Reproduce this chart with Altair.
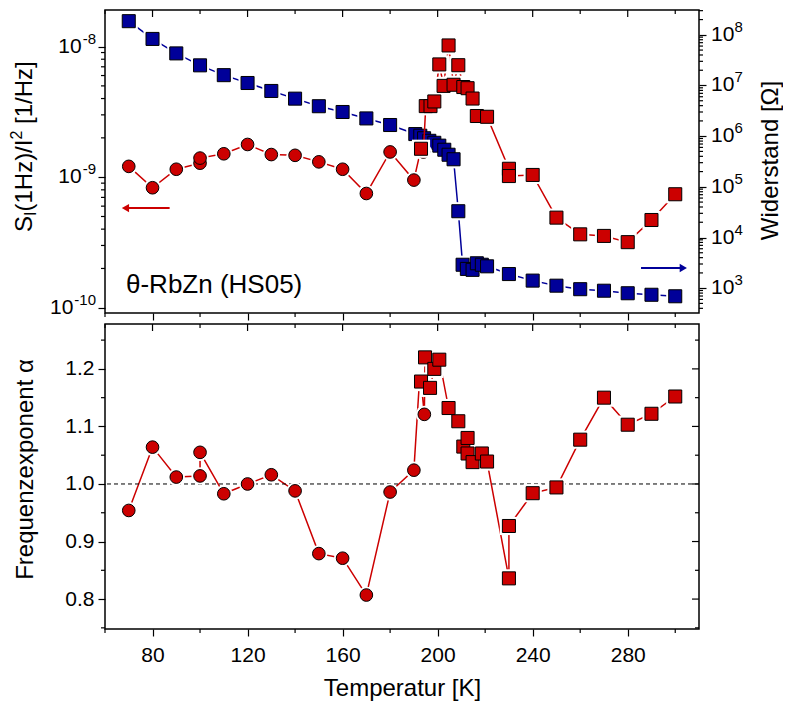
import altair as alt
import pandas as pd

# ---------------- data ----------------
# top panel, red: noise S_I/I^2 (left log axis)
circ_T_top = [70, 80, 90, 100, 100, 110, 120, 130, 140, 150, 160, 170, 180, 190, 194]
circ_S_top = [1.21e-9, 8.3e-10, 1.15e-9, 1.28e-9, 1.40e-9, 1.51e-9, 1.78e-9, 1.49e-9,
              1.47e-9, 1.31e-9, 1.15e-9, 7.5e-10, 1.56e-9, 9.5e-10, 1.56e-9]
sq_T_top = [193, 195, 197, 198.6, 200.7, 202.5, 204.6, 206.7, 208.7, 210.8, 212.6, 214.7,
            216.5, 220.8, 230, 230, 240, 250, 260, 270, 280, 290, 300]
sq_S_top = [1.65e-9, 3.5e-9, 3.5e-9, 3.8e-9, 7.3e-9, 5.0e-9, 1.02e-8, 5.1e-9, 7.2e-9, 4.9e-9,
            4.8e-9, 4.0e-9, 2.94e-9, 2.9e-9, 1.16e-9, 1.02e-9, 1.04e-9, 4.9e-10, 3.65e-10,
            3.55e-10, 3.18e-10, 4.7e-10, 7.4e-10]

# top panel, blue: resistance (right log axis)
blue_T = [70, 80, 90, 100, 110, 120, 130, 140, 150, 160, 170, 180, 190.6, 192.7, 194.3,
          196.5, 198.6, 200.7, 202.8, 204.6, 206.7, 208.7, 210.5, 212.3, 214.7, 216.5,
          218.6, 220.8, 230, 240, 250, 260, 270, 280, 290, 300]
blue_R = [1.86e8, 8.3e7, 4.3e7, 2.5e7, 1.6e7, 1.12e7, 7.8e6, 5.5e6, 3.9e6, 3.0e6, 2.24e6,
          1.66e6, 1.10e6, 1.02e6, 9.1e5, 8.1e5, 7.4e5, 6.5e5, 5.4e5, 4.3e5, 3.5e5, 3.3e4,
          2.9e3, 2.4e3, 2.3e3, 3.1e3, 2.9e3, 2.7e3, 1.9e3, 1.41e3, 1.12e3, 955, 891, 794,
          741, 692]

# bottom panel: frequency exponent alpha
circ_T_bot = [70, 80, 90, 100, 100, 110, 120, 130, 140, 150, 160, 170, 180, 190, 192.3, 194.4]
circ_a_bot = [0.954, 1.064, 1.012, 1.014, 1.055, 0.983, 1.000, 1.016, 0.988, 0.879, 0.871,
              0.807, 0.986, 1.024, 1.176, 1.121]
sq_T_bot = [193, 194.7, 196.8, 198.6, 200.7, 204.6, 208.7, 210.8, 212.6, 212.6, 214.7,
            218.6, 220.8, 230, 230, 240, 250, 260, 270, 280, 290, 300]
sq_a_bot = [1.178, 1.220, 1.167, 1.200, 1.216, 1.132, 1.109, 1.065, 1.080, 1.053, 1.038,
            1.053, 1.039, 0.836, 0.927, 0.984, 0.994, 1.077, 1.150, 1.103, 1.122, 1.152]

alpha_ref = [1.0]

# ticks and tick labels
x_major = [80, 120, 160, 200, 240, 280]
x_minor = [60, 100, 140, 180, 220, 260, 300]
s_major = [1e-10, 1e-9, 1e-8]
s_exp = ["-10", "-9", "-8"]
s_minor = [m * 10.0 ** e for e in (-10, -9) for m in range(2, 10)]
r_major = [1e3, 1e4, 1e5, 1e6, 1e7, 1e8]
r_exp = ["3", "4", "5", "6", "7", "8"]
r_minor = [m * 10.0 ** e for e in range(2, 9) for m in range(2, 10)]
r_minor = [v for v in r_minor if 3.3e2 < v < 3.2e8]
a_major = [0.8, 0.9, 1.0, 1.1, 1.2]
a_minor = [0.75, 0.85, 0.95, 1.05, 1.15, 1.25]

# annotation arrows (data coordinates)
arrow_red_T = [68.6, 87.2]
arrow_red_S = [5.8e-10]
arrow_blue_T = [285.6, 303.4]
arrow_blue_R = [2.5e3]

# ---------------- style ----------------
RED = "#CC0000"
BLUE = "#000099"
FONT = "Liberation Sans"
W = 594
H1 = 303
H2 = 305
MAJ = 7
MIN = 4
LBL = 20      # tick label size
SUP = 15      # exponent size
TTL = 24      # axis title size
SQ = 170      # square marker area
CI = 160      # circle marker area

xs = alt.Scale(domain=[60, 310], nice=False, zero=False)
ss = alt.Scale(type="log", domain=[10 ** -10.04, 10 ** -7.72], nice=False)
rs = alt.Scale(type="log", domain=[10 ** 2.51, 10 ** 8.49], nice=False)
ascale = alt.Scale(domain=[0.748, 1.278], nice=False, zero=False)


def order_df(Ta, Va, Tb, Vb, vname):
    df = pd.DataFrame({"T": Ta + Tb, vname: Va + Vb,
                       "kind": ["circle"] * len(Ta) + ["square"] * len(Tb)})
    df["k"] = range(len(df))
    df = df.sort_values(["T", "k"], kind="stable").reset_index(drop=True)
    df["seq"] = range(len(df))
    return df


red_top = order_df(circ_T_top, circ_S_top, sq_T_top, sq_S_top, "S")
red_bot = order_df(circ_T_bot, circ_a_bot, sq_T_bot, sq_a_bot, "a")
blue_df = pd.DataFrame({"T": blue_T, "R": blue_R})
blue_df["seq"] = range(len(blue_df))

# ---------------- axes ----------------
xtop_axis = alt.Axis(orient="bottom", values=x_major, tickSize=MAJ, tickWidth=1.2,
                     tickColor="black", domain=False, grid=False, labels=False, title=None,
                     minExtent=0)
s_axis = alt.Axis(orient="left", values=s_major, tickSize=MAJ, tickWidth=1.2,
                  tickColor="black", domain=False, grid=False, labels=False, title=None)
r_axis = alt.Axis(orient="right", values=r_major, tickSize=MAJ, tickWidth=1.2,
                  tickColor="black", domain=False, grid=False, labels=False,
                  title="Widerstand [Ω]", titleFontSize=TTL, titleFont=FONT,
                  titleFontWeight="normal", titleColor="black", titleAngle=270,
                  titleX=71, titleY=150, titleAlign="center", titleBaseline="middle")
TX = -80
a_axis = alt.Axis(orient="left", values=a_major, format=".1f", tickSize=MAJ, tickWidth=1.2,
                  tickColor="black", domain=False, grid=False, labelFontSize=LBL + 1,
                  labelColor="black", labelPadding=4, labelFont=FONT,
                  title="Frequenzexponent α", titleFontSize=TTL, titleFont=FONT,
                  titleFontWeight="normal", titleColor="black", titleAngle=270,
                  titleX=TX, titleY=145, titleAlign="center", titleBaseline="middle")
xbot_axis = alt.Axis(orient="bottom", values=x_major, format="d", tickSize=MAJ,
                     tickWidth=1.2, tickColor="black", domain=False, grid=False,
                     labelFontSize=LBL + 1, labelColor="black", labelPadding=8, labelFont=FONT,
                     title="Temperatur [K]", titleFontSize=TTL, titleFont=FONT,
                     titleFontWeight="normal", titleColor="black",
                     titleX=W / 2, titleY=59, titleAlign="center", titleBaseline="middle")

XT = alt.X("T:Q", scale=xs, axis=xtop_axis)
XB = alt.X("T:Q", scale=xs, axis=xbot_axis)


def tick_rules_y(values, yenc, x1, x2):
    return alt.Chart(pd.DataFrame({yenc.shorthand.split(":")[0]: values})).mark_rule(
        color="black", strokeWidth=1.2).encode(y=yenc, x=alt.value(x1), x2=alt.value(x2))


def tick_rules_x(values, xenc, y1, y2):
    return alt.Chart(pd.DataFrame({"T": values})).mark_rule(
        color="black", strokeWidth=1.2).encode(x=xenc, y=alt.value(y1), y2=alt.value(y2))


def txt(s, x, y, size, angle=0, align="left", baseline="alphabetic"):
    return alt.Chart(pd.DataFrame({"t": [s]})).mark_text(
        font=FONT, fontSize=size, color="black", angle=angle, align=align,
        baseline=baseline).encode(text="t:N", x=alt.value(x), y=alt.value(y))


def log_label(values, texts, yenc, x, size, align, dx=0, dy=0):
    return alt.Chart(pd.DataFrame({yenc.shorthand.split(":")[0]: values, "t": texts})).mark_text(
        font=FONT, fontSize=size, color="black", align=align, baseline="middle",
        dx=dx, dy=dy).encode(y=yenc, x=alt.value(x), text="t:N")


def markers(df, shape, color, yenc, xenc, halo=True):
    size = SQ if shape == "square" else CI
    gsize = 330 if shape == "square" else 300
    mk = alt.Chart(df).mark_point(shape=shape, size=size, filled=True, fill=color,
                                  stroke="black", strokeWidth=1, opacity=1)
    out = [mk.encode(x=xenc, y=yenc)]
    if halo:
        hl = alt.Chart(df).mark_point(shape=shape, size=gsize, filled=True, fill="white",
                                      strokeWidth=0, opacity=1)
        out = [hl.encode(x=xenc, y=yenc)] + out
    return out


# ---------------- top panel ----------------
Y_S = alt.Y("S:Q", scale=ss, axis=None)
Y_R = alt.Y("R:Q", scale=rs, axis=None)

blue_line = alt.Chart(blue_df).mark_line(color=BLUE, strokeWidth=1.5).encode(
    x=XT, y=alt.Y("R:Q", scale=rs, axis=r_axis), order="seq:Q")
red_line_top = alt.Chart(red_top).mark_line(color=RED, strokeWidth=1.5).encode(
    x=XT, y=alt.Y("S:Q", scale=ss, axis=s_axis), order="seq:Q")

arr_red = alt.Chart(pd.DataFrame({"T": [arrow_red_T[0]], "T2": [arrow_red_T[1]],
                                  "S": arrow_red_S})).mark_rule(color=RED, strokeWidth=2).encode(
    x=XT, x2="T2:Q", y=Y_S)
arr_red_head = alt.Chart(pd.DataFrame({"T": [arrow_red_T[0]], "S": arrow_red_S})).mark_point(
    shape="triangle-left", size=70, filled=True, color=RED, opacity=1).encode(x=XT, y=Y_S)
arr_blue = alt.Chart(pd.DataFrame({"T": [arrow_blue_T[0]], "T2": [arrow_blue_T[1]],
                                   "R": arrow_blue_R})).mark_rule(color=BLUE, strokeWidth=2).encode(
    x=XT, x2="T2:Q", y=Y_R)
arr_blue_head = alt.Chart(pd.DataFrame({"T": [arrow_blue_T[1]], "R": arrow_blue_R})).mark_point(
    shape="triangle-right", size=70, filled=True, color=BLUE, opacity=1).encode(x=XT, y=Y_R)

# log tick labels: "10" plus a raised exponent
LX = MAJ + 2
left_labels = []
for v, e in zip(s_major, s_exp):
    ew = (0.333 + 0.556 * (len(e) - 1)) * SUP
    left_labels.append(log_label([v], [e], Y_S, -LX, SUP, "right", dy=-8))
    left_labels.append(log_label([v], ["10"], Y_S, -LX, LBL + 1, "right", dx=-ew - 1))
RX = W + MAJ + 5
right_labels = [
    log_label(r_major, ["10"] * len(r_major), Y_R, RX, LBL + 1, "left"),
    log_label(r_major, r_exp, Y_R, RX, SUP, "left", dx=23.5, dy=-8),
]

# manual left title with sub/superscript: S_I(1Hz)/I^2 [1/Hz]
Y0 = 222
w_S = 0.667 * TTL
w_I = 0.278 * 16
w_mid = 3.0 * TTL
w_2 = 0.556 * 16
w_sp = 0.278 * TTL
title_parts = [
    txt("S", TX, Y0, TTL, angle=270, baseline="middle"),
    txt("I", TX + 6, Y0 - w_S, 16, angle=270, baseline="middle"),
    txt("(1Hz)/I", TX, Y0 - w_S - w_I, TTL, angle=270, baseline="middle"),
    txt("2", TX - 8, Y0 - w_S - w_I - w_mid, 16, angle=270, baseline="middle"),
    txt("[1/Hz]", TX, Y0 - w_S - w_I - w_mid - w_2 - w_sp, TTL, angle=270, baseline="middle"),
]
sample_txt = txt("θ-RbZn (HS05)", 21, 283, 26)

top_layers = (
    [blue_line]
    + markers(blue_df, "square", BLUE, Y_R, XT)
    + [red_line_top]
    + markers(red_top[red_top.kind == "circle"], "circle", RED, Y_S, XT)
    + markers(red_top[red_top.kind == "square"], "square", RED, Y_S, XT)
    + [arr_red, arr_red_head, arr_blue, arr_blue_head,
       tick_rules_y(s_minor, Y_S, 0, -MIN),
       tick_rules_y(r_minor, Y_R, W, W + MIN),
       tick_rules_x(x_minor, XT, H1, H1 + MIN),
       tick_rules_x(x_major, XT, 0, MAJ),
       tick_rules_x(x_minor, XT, 0, MIN),
       sample_txt]
    + left_labels + right_labels + title_parts
)

top = alt.layer(*top_layers).resolve_scale(y="independent").properties(width=W, height=H1)

# ---------------- bottom panel ----------------
Y_A = alt.Y("a:Q", scale=ascale, axis=a_axis)

red_line_bot = alt.Chart(red_bot).mark_line(color=RED, strokeWidth=1.5).encode(
    x=XB, y=Y_A, order="seq:Q")
ref_line = alt.Chart(pd.DataFrame({"a": alpha_ref})).mark_rule(
    color="black", strokeWidth=1, strokeDash=[4, 3]).encode(y=Y_A)

bot_layers = (
    [red_line_bot, ref_line]
    + markers(red_bot[red_bot.kind == "circle"], "circle", RED, Y_A, XB)
    + markers(red_bot[red_bot.kind == "square"], "square", RED, Y_A, XB)
    + [tick_rules_y(a_minor, Y_A, 0, -MIN),
       tick_rules_y(a_major, Y_A, W, W - MAJ),
       tick_rules_y(a_minor, Y_A, W, W - MIN),
       tick_rules_x(x_minor, XB, H2, H2 + MIN),
       tick_rules_x(x_major, XB, 0, MAJ),
       tick_rules_x(x_minor, XB, 0, MIN)]
)
bot = alt.layer(*bot_layers).properties(width=W, height=H2)

chart = alt.vconcat(top, bot, spacing=0).properties(padding=0).configure(
    font=FONT).configure_view(stroke="black", strokeWidth=1.5)

chart.save("out.html", embed_options={"renderer": "svg", "actions": False})
